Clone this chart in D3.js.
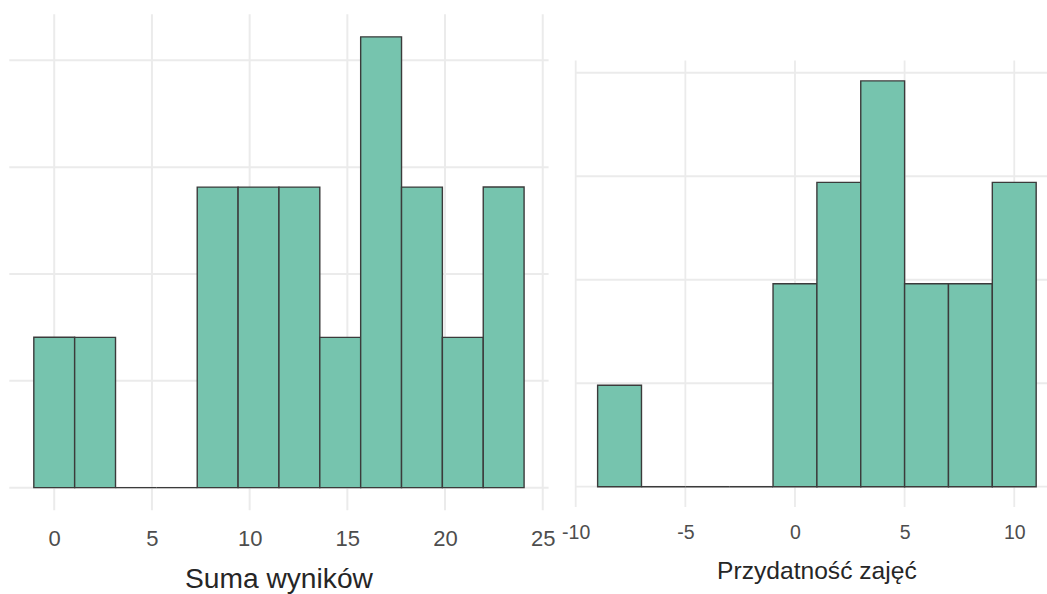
<!DOCTYPE html>
<html>
<head>
<meta charset="utf-8">
<script src="https://cdn.jsdelivr.net/npm/d3@7"></script>
<style>
  html, body { margin: 0; padding: 0; background: #ffffff; }
  svg { display: block; }
  text { font-family: "Liberation Sans", Arial, Helvetica, sans-serif; }
</style>
</head>
<body>
<svg id="chart" width="1047" height="594"></svg>
<script>
// ---- Data (histograms, n = 17 each, y = density) ----
const leftTitle = "Suma wyników";
const leftEdges = [-1.045, 1.045, 3.136, 5.227, 7.318, 9.409, 11.5, 13.591, 15.682, 17.773, 19.864, 21.955, 24.045];
const leftCounts = [1, 1, 0, 0, 2, 2, 2, 1, 3, 2, 1, 2];
const leftXTicks = [0, 5, 10, 15, 20, 25];
const leftYGrid = [0, 0.02, 0.04, 0.06, 0.08];

const rightTitle = "Przydatność zajęć";
const rightEdges = [-9, -7, -5, -3, -1, 1, 3, 5, 7, 9, 11];
const rightCounts = [1, 0, 0, 0, 2, 3, 4, 2, 2, 3];
const rightXTicks = [-10, -5, 0, 5, 10];
const rightYGrid = [0, 0.03, 0.06, 0.09, 0.12];

const svg = d3.select("#chart");

function panel(cfg) {
  const n = d3.sum(cfg.counts);
  const bins = cfg.counts.map((c, i) => {
    const x0 = cfg.edges[i], x1 = cfg.edges[i + 1];
    return { x0, x1, density: c / (n * (x1 - x0)) };
  });
  const xmin = cfg.edges[0], xmax = cfg.edges[cfg.edges.length - 1];
  const xpad = (xmax - xmin) * 0.05;
  const dmax = d3.max(bins, d => d.density);
  const x = d3.scaleLinear().domain([xmin - xpad, xmax + xpad]).range(cfg.xr);
  const y = d3.scaleLinear().domain([-0.05 * dmax, 1.05 * dmax]).range(cfg.yr);

  const g = svg.append("g");

  // grid lines
  g.append("g").selectAll("line.v").data(cfg.xTicks).join("line")
    .attr("x1", d => x(d)).attr("x2", d => x(d))
    .attr("y1", cfg.yr[0]).attr("y2", cfg.yr[1])
    .attr("stroke", "#ebebeb").attr("stroke-width", cfg.gw);
  g.append("g").selectAll("line.h").data(cfg.yGrid).join("line")
    .attr("x1", cfg.xr[0]).attr("x2", cfg.xr[1])
    .attr("y1", d => y(d)).attr("y2", d => y(d))
    .attr("stroke", "#ebebeb").attr("stroke-width", cfg.gw);

  // bars (paths so empty bins still show a baseline segment)
  g.append("g").selectAll("path").data(bins).join("path")
    .attr("d", d => {
      const p = d3.path();
      p.moveTo(x(d.x0), y(0));
      p.lineTo(x(d.x0), y(d.density));
      p.lineTo(x(d.x1), y(d.density));
      p.lineTo(x(d.x1), y(0));
      p.closePath();
      return p.toString();
    })
    .attr("fill", "#76c4ae")
    .attr("stroke", "#3b3b3b")
    .attr("stroke-width", 1.4)
    .attr("stroke-linejoin", "miter");

  // x axis labels
  const axis = d3.axisBottom(x).tickValues(cfg.xTicks).tickSize(0).tickPadding(0)
    .tickFormat(d => String(d));
  const ag = g.append("g").attr("transform", `translate(0,${cfg.axisY})`).call(axis);
  ag.select(".domain").remove();
  ag.selectAll("text")
    .attr("fill", "#4d4d4d")
    .style("font-size", cfg.tickFs + "px")
    .style("font-family", '"Liberation Sans", Arial, sans-serif');

  // axis title
  g.append("text")
    .attr("x", (cfg.xr[0] + cfg.xr[1]) / 2)
    .attr("y", cfg.titleY)
    .attr("text-anchor", "middle")
    .attr("fill", "#262626")
    .style("font-size", cfg.titleFs + "px")
    .text(cfg.title);
}

panel({
  edges: leftEdges, counts: leftCounts, xTicks: leftXTicks, yGrid: leftYGrid,
  title: leftTitle, xr: [9.3, 548.6], yr: [510.2, 14.3], gw: 2,
  axisY: 530.5, tickFs: 22, titleY: 588, titleFs: 28.2
});

panel({
  edges: rightEdges, counts: rightCounts, xTicks: rightXTicks, yGrid: rightYGrid,
  title: rightTitle, xr: [575.7, 1058.1], yr: [507, 60.6], gw: 1.8,
  axisY: 525.5, tickFs: 19.5, titleY: 579, titleFs: 24.6
});
</script>
</body>
</html>
